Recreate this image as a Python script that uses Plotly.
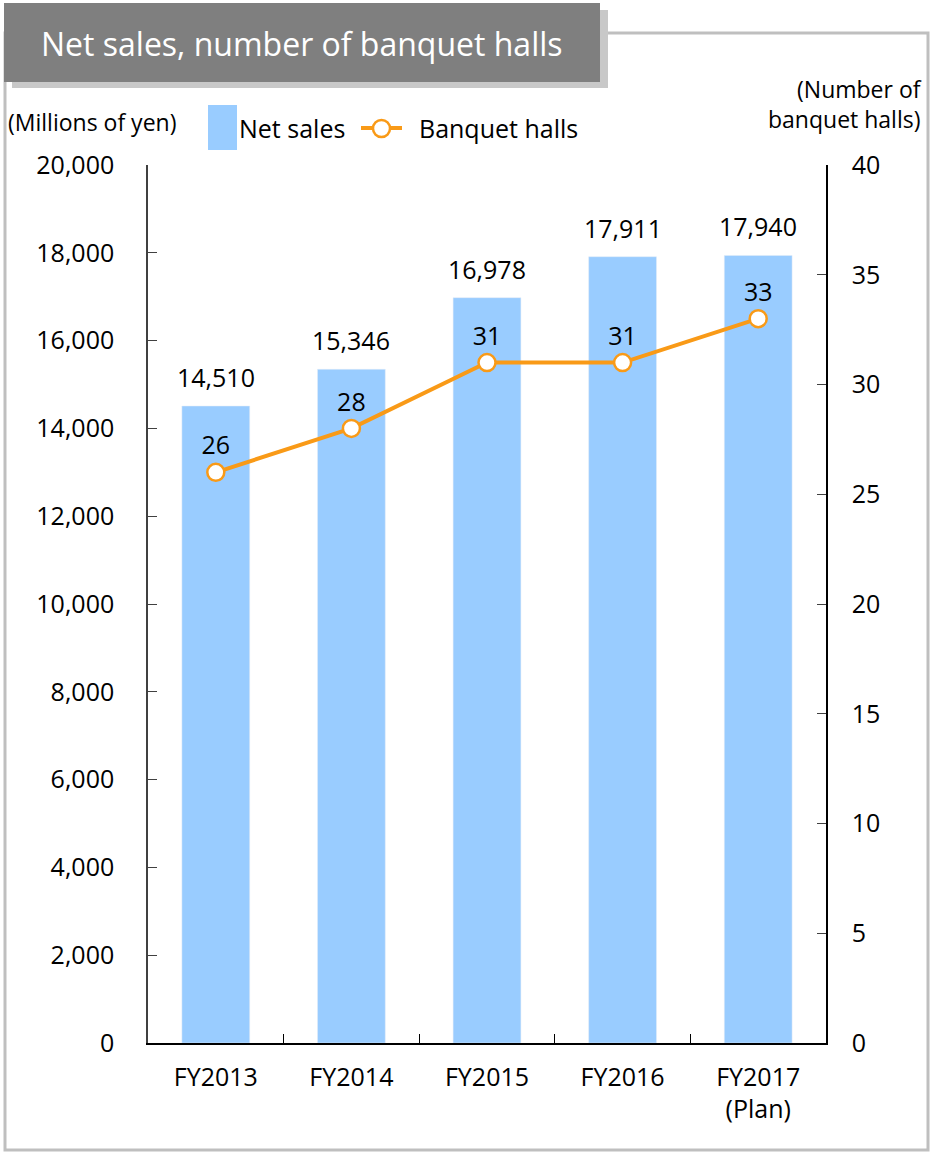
import plotly.graph_objects as go

categories = ["FY2013", "FY2014", "FY2015", "FY2016", "FY2017<br>(Plan)"]
net_sales = [14510, 15346, 16978, 17911, 17940]
banquet_halls = [26, 28, 31, 31, 33]
left_ticks = [0, 2000, 4000, 6000, 8000, 10000, 12000, 14000, 16000, 18000, 20000]
right_ticks = [0, 5, 10, 15, 20, 25, 30, 35, 40]

W, H = 933, 1153
L, R, T, B = 148, 826, 165, 1043
FONT = "Open Sans"
BAR_COLOR = "#99CCFF"
LINE_COLOR = "#F99A17"
FS = 25

def px(x):
    return (x - L) / (R - L)

def py(y):
    return (B - y) / (B - T)

fig = go.Figure()
fig.add_trace(go.Bar(
    x=categories, y=net_sales, width=0.5, marker_color=BAR_COLOR,
    showlegend=False, yaxis="y", hoverinfo="x+y",
))
fig.add_trace(go.Scatter(
    x=categories, y=banquet_halls, mode="lines+markers+text",
    line=dict(color=LINE_COLOR, width=4),
    marker=dict(size=17, color="white", line=dict(color=LINE_COLOR, width=2.5)),
    text=[str(v) for v in banquet_halls], textposition="top center",
    textfont=dict(size=FS, color="#000000", family=FONT),
    cliponaxis=False, showlegend=False, yaxis="y2",
))

shapes = []
# outer frame
shapes.append(dict(type="rect", xref="paper", yref="paper",
                   x0=px(5), x1=px(928), y0=py(1150), y1=py(33),
                   line=dict(color="#BFBFBF", width=3), fillcolor="rgba(0,0,0,0)", layer="below"))
# title shadow
shapes.append(dict(type="rect", xref="paper", yref="paper",
                   x0=px(12), x1=px(608), y0=py(88), y1=py(10),
                   line=dict(width=0), fillcolor="#C8C8C8", layer="above"))
# title box
shapes.append(dict(type="rect", xref="paper", yref="paper",
                   x0=px(4), x1=px(600), y0=py(82), y1=py(3),
                   line=dict(width=0), fillcolor="#7F7F7F", layer="above"))
# legend: bar swatch
shapes.append(dict(type="rect", xref="paper", yref="paper",
                   x0=px(208), x1=px(237), y0=py(150), y1=py(105),
                   line=dict(width=0), fillcolor=BAR_COLOR))
# legend: line swatch
shapes.append(dict(type="line", xref="paper", yref="paper",
                   x0=px(361), x1=px(402), y0=py(128), y1=py(128),
                   line=dict(color=LINE_COLOR, width=4)))
shapes.append(dict(type="circle", xref="paper", yref="paper",
                   x0=px(373), x1=px(390), y0=py(137), y1=py(120),
                   line=dict(color=LINE_COLOR, width=2.5), fillcolor="white"))

annotations = [
    dict(text="Net sales, number of banquet halls", xref="paper", yref="paper",
         x=px(302), y=py(43), xanchor="center", yanchor="middle", showarrow=False,
         font=dict(size=32, color="white", family=FONT)),
    dict(text="(Millions of yen)", xref="paper", yref="paper",
         x=px(6), y=py(122), xanchor="left", yanchor="middle", showarrow=False,
         font=dict(size=23, color="#000000", family=FONT)),
    dict(text="(Number of<br>banquet halls)", xref="paper", yref="paper",
         x=px(924), y=py(104), xanchor="right", yanchor="middle", showarrow=False,
         align="right", font=dict(size=23, color="#000000", family=FONT)),
    dict(text="Net sales", xref="paper", yref="paper",
         x=px(237), y=py(128), xanchor="left", yanchor="middle", showarrow=False,
         font=dict(size=FS, color="#000000", family=FONT)),
    dict(text="Banquet halls", xref="paper", yref="paper",
         x=px(417), y=py(128), xanchor="left", yanchor="middle", showarrow=False,
         font=dict(size=FS, color="#000000", family=FONT)),
]
for c, v in zip(categories, net_sales):
    annotations.append(dict(text=f"{v:,}", x=c, y=v, xref="x", yref="y",
                            xanchor="center", yanchor="bottom", yshift=10,
                            showarrow=False,
                            font=dict(size=FS, color="#000000", family=FONT)))

fig.update_layout(
    width=W, height=H,
    margin=dict(l=L, r=W - R, t=T, b=H - B, pad=0),
    paper_bgcolor="white", plot_bgcolor="white",
    font=dict(family=FONT, size=FS, color="#000000"),
    shapes=shapes, annotations=annotations,
    xaxis=dict(type="category", showline=True, linecolor="#000000", linewidth=1.5,
               ticks="inside", tickson="boundaries", ticklen=9, tickcolor="#000000",
               tickfont=dict(size=FS), showgrid=False, mirror=False,
               ticklabelstandoff=11),
    yaxis=dict(range=[0, 20000], tickvals=left_ticks,
               ticktext=[f"{v:,}" for v in left_ticks],
               showline=True, linecolor="#404040", linewidth=1.5,
               ticks="inside", ticklen=9, tickcolor="#404040",
               showgrid=False, zeroline=False, tickfont=dict(size=FS),
               ticklabelstandoff=27),
    yaxis2=dict(range=[0, 40], tickvals=right_ticks, overlaying="y", side="right",
                showline=True, linecolor="#000000", linewidth=1.5,
                ticks="inside", ticklen=9, tickcolor="#404040",
                showgrid=False, zeroline=False, tickfont=dict(size=FS),
                ticklabelstandoff=19),
)

fig.write_html("out.html")
